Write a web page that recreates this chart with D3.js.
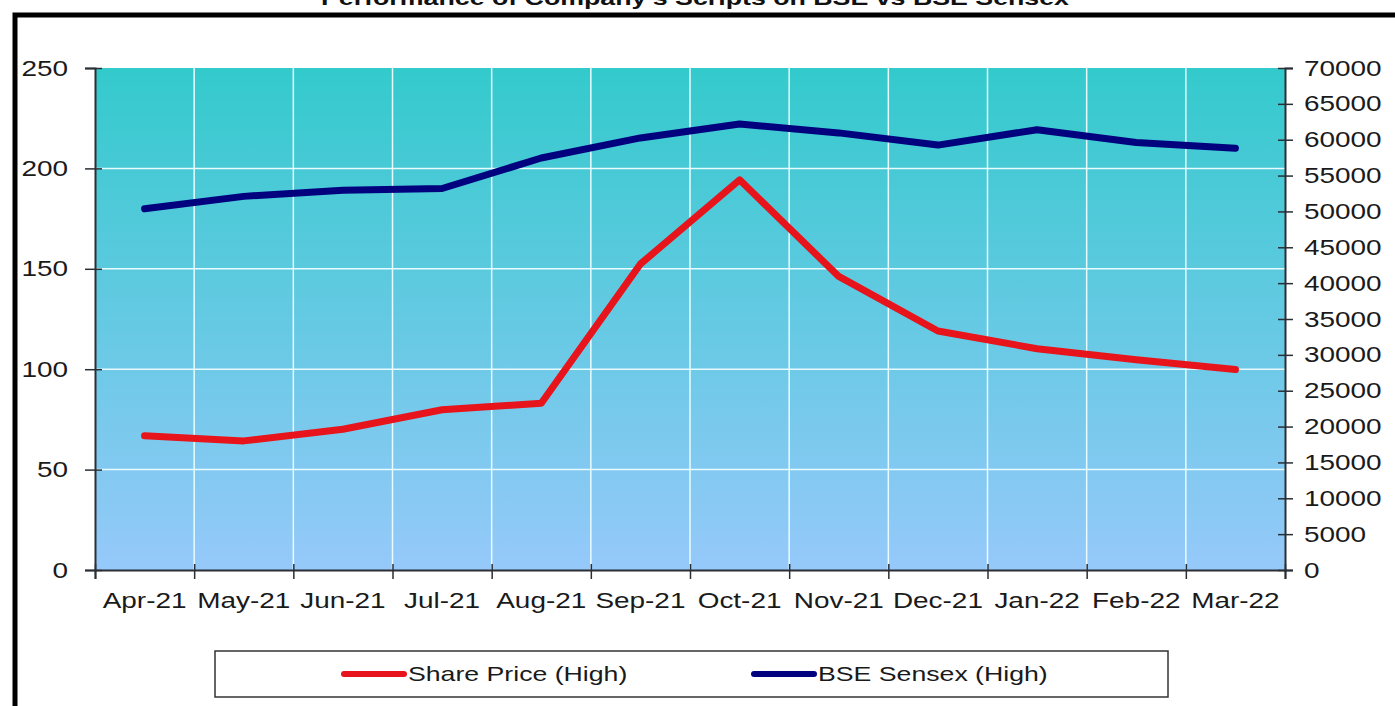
<!DOCTYPE html>
<html>
<head>
<meta charset="utf-8">
<script src="https://cdn.jsdelivr.net/npm/d3@7"></script>
<style>
  body { margin: 0; background: #fff; }
  svg { display: block; font-family: "Liberation Sans", Arial, sans-serif; }
</style>
</head>
<body>
<svg class="viz" width="1395" height="706"></svg>
<script>
// chart data
var months = ["Apr-21", "May-21", "Jun-21", "Jul-21", "Aug-21", "Sep-21",
              "Oct-21", "Nov-21", "Dec-21", "Jan-22", "Feb-22", "Mar-22"];
var sharePrice = [66.8, 64.3, 70.1, 79.8, 83.0, 152.4, 194.3, 146.2, 119.0, 110.2, 104.7, 99.8];
var sensex = [50380, 52100, 52950, 53200, 57450, 60250, 62200, 60950, 59250, 61400, 59600, 58800];
var leftTicks = [0, 50, 100, 150, 200, 250];
var rightTicks = d3.range(0, 70001, 5000);
var seriesNames = ["Share Price (High)", "BSE Sensex (High)"];

var svg = d3.select(".viz"),
    margin = {top: 68, right: 110, bottom: 136, left: 95},
    width = 1395 - margin.left - margin.right,   // 1190
    height = 706 - margin.top - margin.bottom;   // 502

var sx = 1.27; // the source picture is stretched sideways

// stretch a text element sideways around its own x position
function stretch(sel) {
  sel.each(function() {
    var t = d3.select(this);
    var x = +t.attr("x") || 0;
    t.attr("x", 0).attr("transform", "translate(" + x + ",0) scale(" + sx + ",1)");
  });
}

// outer frame and title
svg.append("rect")
    .attr("x", 15).attr("y", 15)
    .attr("width", 1400).attr("height", 720)
    .attr("fill", "#fff")
    .attr("stroke", "#000")
    .attr("stroke-width", 5);

svg.append("text")
    .attr("x", 695).attr("y", 5)
    .attr("text-anchor", "middle")
    .attr("font-size", "21px")
    .attr("font-weight", "bold")
    .attr("fill", "#111")
    .attr("textLength", 748)
    .attr("lengthAdjust", "spacingAndGlyphs")
    .text("Performance of Company's Scripts on BSE vs BSE Sensex");

// plot background gradient
var grad = svg.append("defs").append("linearGradient")
    .attr("id", "bg").attr("x1", 0).attr("y1", 0).attr("x2", 0).attr("y2", 1);
grad.append("stop").attr("offset", "0%").attr("stop-color", "#33cacc");
grad.append("stop").attr("offset", "100%").attr("stop-color", "#96c9fa");

var g = svg.append("g")
    .attr("transform", "translate(" + margin.left + "," + margin.top + ")");

g.append("rect")
    .attr("width", width).attr("height", height)
    .attr("fill", "url(#bg)");

// scales
var x = d3.scaleBand().domain(months).range([0, width]);
var xEdge = d3.scaleLinear().domain([0, months.length]).range([0, width]);
var yL = d3.scaleLinear().domain([0, 250]).range([height, 0]);
var yR = d3.scaleLinear().domain([0, 70000]).range([height, 0]);

// grid
g.append("g").selectAll("line")
    .data(d3.range(1, months.length))
  .enter().append("line")
    .attr("x1", function(d) { return xEdge(d); })
    .attr("x2", function(d) { return xEdge(d); })
    .attr("y1", 0).attr("y2", height)
    .attr("stroke", "#e8fbff").attr("stroke-width", 1.5);

g.append("g").selectAll("line")
    .data(leftTicks.slice(1, -1))
  .enter().append("line")
    .attr("x1", 0).attr("x2", width)
    .attr("y1", function(d) { return yL(d); })
    .attr("y2", function(d) { return yL(d); })
    .attr("stroke", "#e8fbff").attr("stroke-width", 1.5);

// axes
var axisColor = "#2a2f35";

var gl = g.append("g")
    .call(d3.axisLeft(yL).tickValues(leftTicks).tickSize(10).tickPadding(17));
gl.selectAll(".tick line").attr("x1", 7);

var gr = g.append("g")
    .attr("transform", "translate(" + width + ",0)")
    .call(d3.axisRight(yR).tickValues(rightTicks).tickSize(8).tickPadding(11).tickFormat(d3.format("d")));
gr.selectAll(".tick line").attr("x1", -7);

var gb = g.append("g")
    .attr("transform", "translate(0," + height + ")")
    .call(d3.axisBottom(xEdge).tickValues(d3.range(0, months.length + 1)).tickSize(9).tickFormat(""));
gb.selectAll(".tick line").attr("y1", -6);

var gx = g.append("g")
    .attr("transform", "translate(0," + height + ")")
    .call(d3.axisBottom(x).tickSize(0).tickPadding(22));
gx.select(".domain").remove();

[gl, gr, gb].forEach(function(a) {
  a.select(".domain").attr("stroke", axisColor).attr("stroke-width", 2);
  a.selectAll(".tick line").attr("stroke", axisColor).attr("stroke-width", 1.5);
});
[gl, gr, gx].forEach(function(a) {
  a.selectAll("text")
      .attr("font-family", "Liberation Sans, Arial, sans-serif")
      .attr("font-size", "22px")
      .attr("fill", "#1a1a1a")
      .call(stretch);
});

// lines
var lineL = d3.line()
    .x(function(d, i) { return x(months[i]) + x.bandwidth() / 2; })
    .y(function(d) { return yL(d); });
var lineR = d3.line()
    .x(function(d, i) { return x(months[i]) + x.bandwidth() / 2; })
    .y(function(d) { return yR(d); });

g.append("path")
    .datum(sensex)
    .attr("d", lineR)
    .attr("fill", "none")
    .attr("stroke", "#02027e")
    .attr("stroke-width", 7)
    .attr("stroke-linejoin", "round")
    .attr("stroke-linecap", "round");

g.append("path")
    .datum(sharePrice)
    .attr("d", lineL)
    .attr("fill", "none")
    .attr("stroke", "#e8141b")
    .attr("stroke-width", 7)
    .attr("stroke-linejoin", "round")
    .attr("stroke-linecap", "round");

// legend
var legend = svg.append("g");
legend.append("rect")
    .attr("x", 215).attr("y", 651)
    .attr("width", 953).attr("height", 46)
    .attr("fill", "#fff")
    .attr("stroke", "#333").attr("stroke-width", 1.5);

var legendItems = [
  {name: seriesNames[0], color: "#e8141b", x: 344},
  {name: seriesNames[1], color: "#02027e", x: 754}
];
legendItems.forEach(function(d) {
  legend.append("line")
      .attr("x1", d.x).attr("x2", d.x + 60)
      .attr("y1", 674).attr("y2", 674)
      .attr("stroke", d.color).attr("stroke-width", 6)
      .attr("stroke-linecap", "round");
  legend.append("text")
      .attr("x", d.x + 64).attr("y", 681)
      .attr("font-size", "21px")
      .attr("fill", "#1a1a1a")
      .text(d.name)
      .call(stretch);
});
</script>
</body>
</html>
